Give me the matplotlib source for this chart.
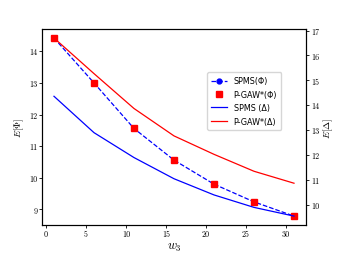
import matplotlib
matplotlib.use("Agg")
import matplotlib.pyplot as plt

plt.rcParams["mathtext.fontset"] = "cm"

w3 = [1, 6, 11, 16, 21, 26, 31]
spms_phi = [14.42, 13.00, 11.56, 10.56, 9.80, 9.24, 8.79]
pgaw_phi = [14.42, 13.00, 11.56, 10.56, 9.80, 9.24, 8.79]
spms_delta = [14.36, 12.90, 11.90, 11.05, 10.40, 9.90, 9.55]
pgaw_delta = [16.70, 15.27, 13.87, 12.77, 12.03, 11.35, 10.87]

fig = plt.figure(figsize=(3.4, 2.55), dpi=100)
ax = fig.add_axes([0.1235, 0.1137, 0.7765, 0.7683])
ax2 = ax.twinx()

l1, = ax.plot(w3, spms_phi, "b--o", lw=0.9, ms=3.5, label="SPMS(Φ)")
l2, = ax.plot(w3, pgaw_phi, "rs", ms=5, label="P-GAW*(Φ)")
l3, = ax2.plot(w3, spms_delta, "b-", lw=0.9, label="SPMS (Δ)")
l4, = ax2.plot(w3, pgaw_delta, "r-", lw=0.9, label="P-GAW*(Δ)")

ax.set_xticks([0, 5, 10, 15, 20, 25, 30])
ax.set_yticks([9, 10, 11, 12, 13, 14])
ax2.set_yticks([10, 11, 12, 13, 14, 15, 16, 17])
for a in (ax, ax2):
    for lab in a.get_xticklabels() + a.get_yticklabels():
        lab.set_fontfamily("cmr10")
        lab.set_fontsize(5.8)
    a.tick_params(length=2, width=0.6, pad=1.5)
    for s in a.spines.values():
        s.set_linewidth(0.8)

ax.set_xlabel("$w_3$", fontsize=9, labelpad=1)
ax.set_ylabel(r"$E[\Phi]$", fontsize=7, labelpad=2)
ax2.set_ylabel(r"$E[\Delta]$", fontsize=7, labelpad=2)

ax.legend(handles=[l1, l2, l3, l4], loc="upper left",
          bbox_to_anchor=(0.61, 0.80), fontsize=5.8, frameon=True,
          handlelength=2.0, borderpad=0.5, labelspacing=0.55,
          handletextpad=0.8)

fig.savefig("out.png", dpi=100)
